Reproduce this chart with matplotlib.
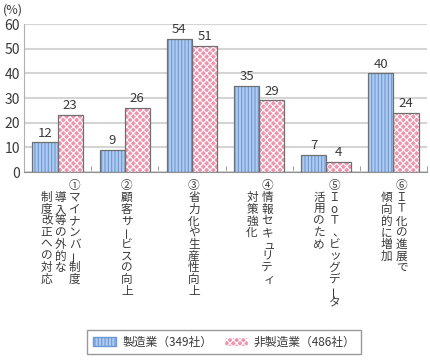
import numpy as np
import matplotlib
matplotlib.use('Agg')
import matplotlib.pyplot as plt
from matplotlib.transforms import offset_copy
from matplotlib.patches import Patch

plt.rcParams['font.family'] = ['Noto Sans CJK JP', 'DejaVu Sans']
plt.rcParams['hatch.linewidth'] = 0.8

# data
labels = [
	["①マイナンバー制度", "導入等の外的な", "制度改正への対応"],
	["②顧客サービスの向上"],
	["③省力化や生産性向上"],
	["④情報セキュリティ", "対策強化"],
	["⑤ＩoＴ、ビッグデータ", "活用のため"],
	["⑥ＩＴ化の進展で", "傾向的に増加"],
]
manufacturing = [12, 9, 54, 35, 7, 40]
non_manufacturing = [23, 26, 51, 29, 4, 24]
series_names = ["製造業（349社）", "非製造業（486社）"]

text_col = '#3a3a3a'
blue_face = '#b0cbee'
blue_hatch = '#6b98d6'
pink_face = '#ee94ad'
edge = '#707070'

fig = plt.figure(figsize=(4.3, 3.6), dpi=100)
ax = fig.add_axes([24/430, 1 - 172/360, 403/430, 148/360])

x = np.arange(len(manufacturing))
w = 0.375

# filled hatched bars, then outlines on top
ax.bar(x - w/2, manufacturing, w, color=blue_face, edgecolor=blue_hatch, hatch='|||||', linewidth=0, zorder=2)
ax.bar(x + w/2, non_manufacturing, w, color=pink_face, edgecolor='white', hatch='xxxxx', linewidth=0, zorder=2)
ax.bar(x - w/2, manufacturing, w, fill=False, edgecolor=edge, linewidth=0.9, zorder=3)
ax.bar(x + w/2, non_manufacturing, w, fill=False, edgecolor=edge, linewidth=0.9, zorder=3)

for i in x:
	ax.annotate(str(manufacturing[i]), (i - w/2, manufacturing[i]), xytext=(0, 2), textcoords='offset points',
		ha='center', va='bottom', fontsize=9.5, color=text_col)
	ax.annotate(str(non_manufacturing[i]), (i + w/2, non_manufacturing[i]), xytext=(0, 2), textcoords='offset points',
		ha='center', va='bottom', fontsize=9.5, color=text_col)

ax.set_xlim(-0.5, 5.5)
ax.set_ylim(0, 60)
ax.set_yticks(range(0, 61, 10))
ax.yaxis.grid(True, color='#d4d4d4', linewidth=1.5, zorder=0)
ax.set_axisbelow(True)
for s in ['top', 'right']:
	ax.spines[s].set_visible(False)
ax.spines['left'].set_color('#b0b0b0')
ax.spines['bottom'].set_color('#909090')
ax.tick_params(axis='y', length=0, labelsize=10, colors=text_col, pad=3)
ax.set_xticks([])
ax.set_xticks(np.arange(-0.5, 6, 1), minor=True)
ax.tick_params(axis='x', which='minor', direction='in', length=4, color='#909090')

fig.text(3/430, 1 - 4/360, '(%)', ha='left', va='top', fontsize=9, color=text_col)

# vertical japanese labels
col_offsets = {1: [2], 2: [8, -7], 3: [17, 3, -11]}
pitch = 11.7
small = {'ィ': 2, 'ュ': 2, 'ッ': 2, '、': 4}
base = ax.get_xaxis_transform()
for i, cols in enumerate(labels):
	for c, col in enumerate(cols):
		dx = col_offsets[len(cols)][c]
		start = 8 + (pitch if c > 0 else 0)
		for k, ch in enumerate(col):
			dy = -(start + pitch * (k + 0.5))
			tr = offset_copy(base, fig=fig, x=dx + small.get(ch, 0), y=dy, units='dots')
			rot = 90 if ch == 'ー' else 0
			ax.text(i, 0, ch, transform=tr, ha='center', va='center', rotation=rot,
				fontsize=8.4, color=text_col, clip_on=False)

handles = [Patch(facecolor=blue_face, edgecolor=blue_hatch, hatch='|||||'),
	Patch(facecolor=pink_face, edgecolor='white', hatch='xxxxx')]
leg = fig.legend(handles, series_names, loc='center', bbox_to_anchor=(224/430, 1 - 342/360),
	ncol=2, fontsize=8.5, frameon=True, fancybox=False, edgecolor='#808080',
	handlelength=2.0, handleheight=0.8, columnspacing=1.0, handletextpad=0.5, borderpad=0.5)
leg.get_frame().set_linewidth(1.0)
for t in leg.get_texts():
	t.set_color(text_col)

fig.savefig('out.png', dpi=100)
